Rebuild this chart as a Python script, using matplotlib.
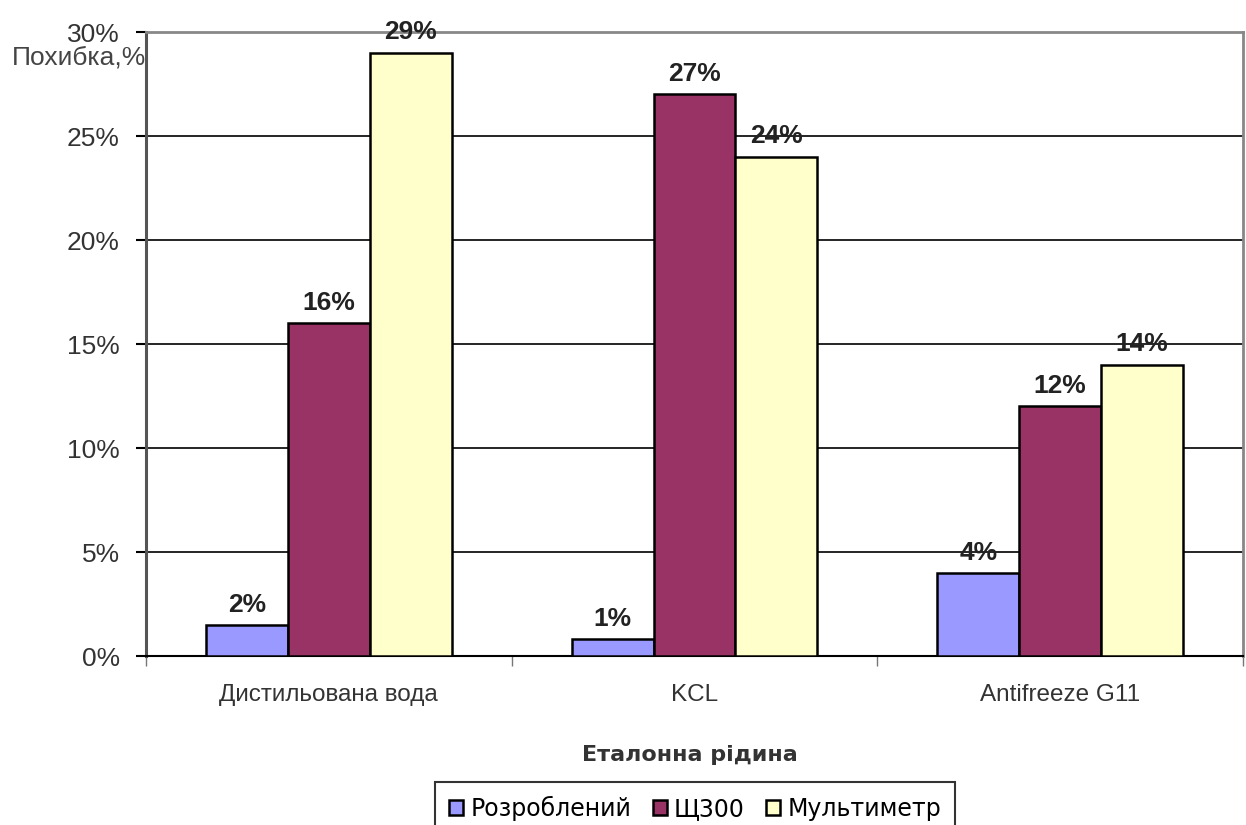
import matplotlib.pyplot as plt
import numpy as np
from matplotlib.ticker import PercentFormatter

# error of each instrument per reference liquid
liquids = ['Дистильована вода', 'KCL', 'Antifreeze G11']
series = ['Розроблений', 'Щ300', 'Мультиметр']
developed = [0.015, 0.008, 0.04]
shch300 = [0.16, 0.27, 0.12]
multimeter = [0.29, 0.24, 0.14]
colors = ['#9999FF', '#993366', '#FFFFCC']

plt.rcParams['font.family'] = ['Liberation Sans', 'DejaVu Sans']

fig = plt.figure(figsize=(12.46, 8.25), dpi=100)
ax = fig.add_axes([0.1172, 0.2048, 0.8804, 0.7564])

x = np.arange(len(liquids))
w = 0.224
for i, (name, vals) in enumerate(zip(series, [developed, shch300, multimeter])):
    bars = ax.bar(x + (i - 1) * w, vals, w, color=colors[i], edgecolor='black',
                  linewidth=1.8, label=name, zorder=3)
    for b, v in zip(bars, vals):
        ax.annotate('{:.0%}'.format(v), (b.get_x() + b.get_width() / 2, v),
                    xytext=(0, 6), textcoords='offset points', ha='center',
                    va='bottom', fontsize=19, fontweight='bold', color='#222222',
                    zorder=4)

ax.set_xlim(-0.5, 2.5)
ax.set_ylim(0, 0.30)
ax.set_yticks(np.arange(0, 0.31, 0.05))
ax.yaxis.set_major_formatter(PercentFormatter(1.0, decimals=0))
ax.set_xticks(x)
ax.set_xticklabels(liquids)
ax.set_xticks([-0.5, 0.5, 1.5, 2.5], minor=True)
ax.tick_params(axis='x', which='major', length=0, pad=20, labelsize=17.5,
               labelcolor='#333333')
ax.tick_params(axis='x', which='minor', length=7, width=1, color='#777777',
               direction='out')
ax.tick_params(axis='y', length=7, width=1.5, pad=12, labelsize=19,
               labelcolor='#333333')

ax.grid(axis='y', color='black', linewidth=1.2, zorder=0)
ax.set_axisbelow(True)
for side in ['top', 'right']:
    ax.spines[side].set_color('#888888')
    ax.spines[side].set_linewidth(2)
ax.spines['left'].set_color('#555555')
ax.spines['left'].set_linewidth(2.2)
ax.spines['bottom'].set_color('black')
ax.spines['bottom'].set_linewidth(1.5)

fig.text(146 / 1246, 1 - 58 / 825, 'Похибка,%', ha='right', va='center',
         fontsize=19, color='#444444')
fig.text(690 / 1246, 1 - 755 / 825, 'Еталонна рідина', ha='center', va='center',
         fontsize=16, fontweight='bold', color='#333333', family='DejaVu Sans')

# legend hangs off the bottom edge of the figure
leg = fig.legend(loc='upper left', bbox_to_anchor=(435 / 1246, 1 - 782 / 825),
                 ncol=3, frameon=True, fancybox=False, borderaxespad=0,
                 handlelength=0.6, handleheight=0.6, handletextpad=0.3,
                 columnspacing=0.9, borderpad=0.6,
                 prop={'family': 'DejaVu Sans', 'size': 17})
leg.get_frame().set_edgecolor('black')
leg.get_frame().set_linewidth(1.5)

fig.savefig('out.png', dpi=100)
plt.close(fig)
